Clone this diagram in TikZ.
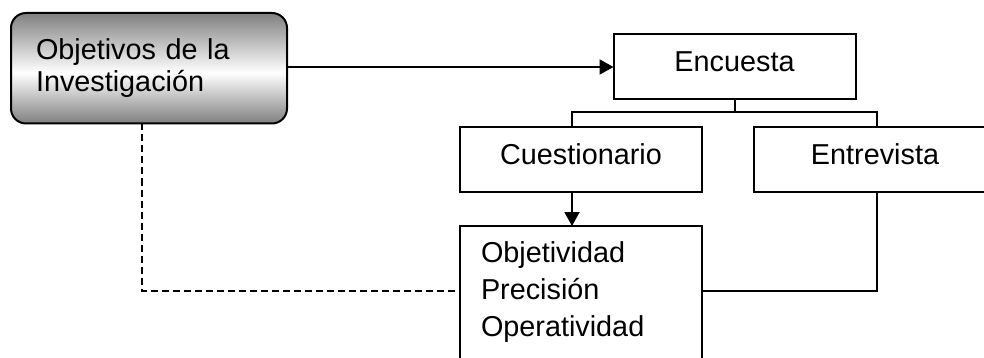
\documentclass[tikz,border=0pt]{standalone}
\usepackage{fontspec}
\setmainfont{Liberation Sans}
\usetikzlibrary{positioning,calc,arrows.meta}
\definecolor{grisobj}{gray}{0.50}
\pgfdeclareverticalshading{sombraobj}{100bp}{color(0bp)=(grisobj); color(25bp)=(grisobj); color(48bp)=(white); color(75bp)=(grisobj); color(100bp)=(grisobj)}
\tikzset{caja/.style={draw, line width=2pt, outer sep=0pt, minimum width=242pt, minimum height=65pt, text height=21pt, text depth=11pt, font=\fontsize{28.8}{34}\selectfont}}
\tikzset{cajaobj/.style={draw, line width=2pt, rounded corners=15pt, outer sep=0pt, shading=sombraobj, minimum width=276pt, minimum height=110.5pt, text width=226pt, inner xsep=25pt, align=left, font=\fontsize{28.8}{32.4}\selectfont}}
\tikzset{cajalista/.style={draw, line width=2pt, outer sep=0pt, minimum width=242pt, text width=200pt, inner xsep=21pt, inner ysep=15.7pt, text depth=200pt, align=left, font=\fontsize{28.8}{37}\selectfont}}
\tikzset{linea/.style={draw, line width=2pt}}
\tikzset{flecha/.style={draw, line width=2pt, -{Triangle[length=14pt, width=15pt]}}}
\tikzset{punteado/.style={draw, line width=1.8pt, dash pattern=on 7pt off 4pt}}

\begin{document}
\begin{tikzpicture}[x=1pt, y=1pt]
			\useasboundingbox (0,0) rectangle (984,-358);
			\node[cajaobj] (obj) at (149,-68.25) {Objetivos de la\\Investigación};
			\node[caja] (enc) at (734.5,-67) {Encuesta};
			\node[caja] (cue) at (581,-159.5) {Cuestionario};
			\node[caja, right=52pt of cue] (ent) {Entrevista};
			\node[cajalista, below=34pt of cue] (cual) {Objetividad\\Precisión\\Operatividad};
			\coordinate (nivel) at (0,-290.7);
%
			\draw[flecha] (obj.east |- enc) -- (enc);
			\draw[linea] (enc.south) -- ++(0,-12.3) coordinate (horq) -| ([xshift=-9pt]cue.north);
			\draw[linea] (horq) -| ([xshift=1.5pt]ent.north);
			\draw[flecha] ([xshift=-9pt]cue.south) -- ([xshift=-9pt]cue.south |- cual.north);
			\draw[linea] ([xshift=1.5pt]ent.south) |- (cual.east |- nivel);
			\draw[punteado] ([xshift=-7pt]obj.south) |- (cual.west |- nivel);
		\end{tikzpicture}
\end{document}
